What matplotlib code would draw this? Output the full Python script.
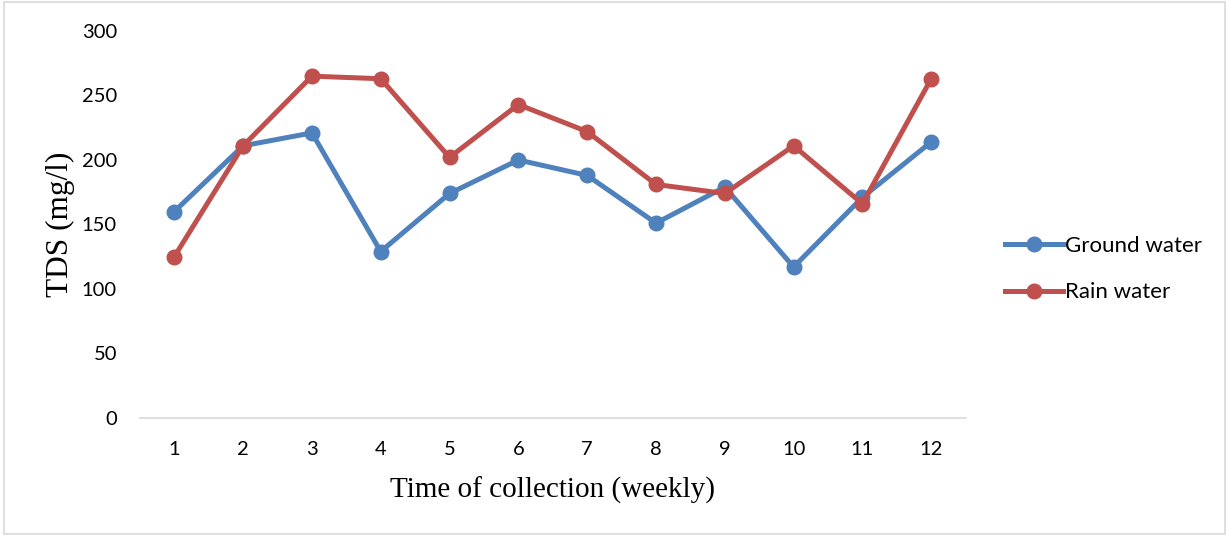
import matplotlib.pyplot as plt
from matplotlib.patches import Rectangle

# Weekly TDS readings (mg/l)
weeks = [1, 2, 3, 4, 5, 6, 7, 8, 9, 10, 11, 12]
ground_water = [160, 211, 221, 129, 174, 200, 188, 151, 179, 117, 171, 214]
rain_water = [125, 211, 265, 263, 202, 243, 222, 181, 174, 211, 166, 263]
y_ticks = [0, 50, 100, 150, 200, 250, 300]

blue = '#4F81BD'
red = '#C0504D'
tick_font = 'Lato'
title_font = 'Liberation Serif'

fig = plt.figure(figsize=(12.27, 5.35), dpi=100)
ax = fig.add_axes([0.114, 0.219, 0.673, 0.723])

ax.plot(weeks, ground_water, color=blue, lw=3.6, marker='o', ms=10.5,
        label='Ground water', solid_joinstyle='round')
ax.plot(weeks, rain_water, color=red, lw=3.6, marker='o', ms=10.5,
        label='Rain water', solid_joinstyle='round')

ax.set_xlim(0.5, 12.5)
ax.set_ylim(0, 300)
ax.set_xticks(weeks)
ax.set_yticks(y_ticks)
ax.tick_params(length=0, labelsize=14.5, colors='#000000')
ax.tick_params(axis='x', pad=17)
ax.tick_params(axis='y', pad=16.5)
for lbl in ax.get_xticklabels() + ax.get_yticklabels():
    lbl.set_fontfamily(tick_font)

for side in ['top', 'right', 'left']:
    ax.spines[side].set_visible(False)
ax.spines['bottom'].set_color('#D9D9D9')
ax.spines['bottom'].set_linewidth(1.2)

ax.set_xlabel('Time of collection (weekly)', fontsize=21, family=title_font, labelpad=13)
ax.set_ylabel('TDS (mg/l)', fontsize=22.5, family=title_font, labelpad=5)

leg = fig.legend(loc='center left', bbox_to_anchor=(0.803, 0.497), frameon=False,
                 prop={'family': tick_font, 'size': 16}, handlelength=2.6,
                 handletextpad=0.1, labelspacing=1.2)

# thin outer frame
fig.patches.append(Rectangle((0.003, 0.002), 0.995, 0.994, transform=fig.transFigure,
                             fill=False, edgecolor='#D9D9D9', lw=1.2))

fig.savefig('out.png', dpi=100)
